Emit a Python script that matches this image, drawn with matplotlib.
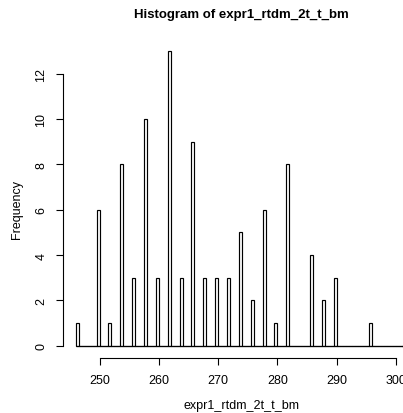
import numpy as np
import matplotlib
matplotlib.use("Agg")
import matplotlib.pyplot as plt

# bin right edges (values) and their counts
values = [246.5, 250, 252, 254, 256, 258, 260, 262, 264, 266, 268, 270, 272,
          274, 276, 278, 280, 282, 286, 288, 290, 296]
counts = [1, 6, 1, 8, 3, 10, 3, 13, 3, 9, 3, 3, 3,
          5, 2, 6, 1, 8, 4, 2, 3, 1]
xticks = [250, 260, 270, 280, 290, 300]
yticks = [0, 2, 4, 6, 8, 10, 12]

plt.rcParams['font.family'] = ['Liberation Sans', 'DejaVu Sans']

W, H = 403, 414
fig = plt.figure(figsize=(W / 100, H / 100), dpi=100)
left_px, right_px = 62.5, 421.2
top_px, bot_px = 40.2, 358.5
ax = fig.add_axes([left_px / W, (H - bot_px) / H,
                   (right_px - left_px) / W, (bot_px - top_px) / H])

bins = np.arange(246, 302.001, 0.5)
ax.hist(np.array(values) - 0.25, bins=bins, weights=counts,
        fill=False, edgecolor='black', linewidth=0.85)
# baseline formed by empty bins
ax.hlines(0, bins[0], bins[-1], color='black', linewidth=0.85)

ax.set_xlim(243.76, 304.24)
ax.set_ylim(-0.52, 13.52)

for s in ['top', 'right']:
    ax.spines[s].set_visible(False)
ax.spines['left'].set_bounds(0, 12)
ax.spines['bottom'].set_bounds(250, 300)
for s in ['left', 'bottom']:
    ax.spines[s].set_linewidth(0.8)

ax.set_xticks(xticks)
ax.set_yticks(yticks)
ax.tick_params(axis='both', direction='out', length=5, width=0.8,
               labelsize=9, colors='black')
ax.tick_params(axis='x', pad=7)
ax.tick_params(axis='y', pad=6)
for lab in ax.get_yticklabels():
    lab.set_rotation(90)
    lab.set_va('center')

fig.text(241 / W, 1 - 15 / H, 'Histogram of expr1_rtdm_2t_t_bm',
         ha='center', va='center', fontsize=9.5, fontweight='bold')
fig.text(241.5 / W, 1 - 406.5 / H, 'expr1_rtdm_2t_t_bm',
         ha='center', va='center', fontsize=9)
fig.text(17 / W, 1 - 210 / H, 'Frequency', rotation=90,
         ha='center', va='center', fontsize=9)

fig.savefig('out.png', dpi=100)
